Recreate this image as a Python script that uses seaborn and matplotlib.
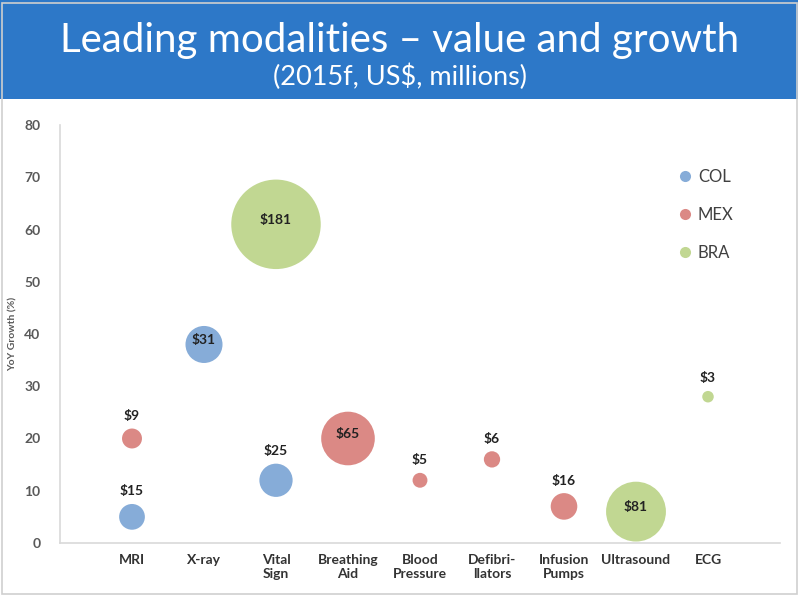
import pandas as pd
import seaborn as sns
import matplotlib.pyplot as plt
from matplotlib.patches import Rectangle

# categories on the x axis
categories = ["MRI", "X-ray", "Vital\nSign", "Breathing\nAid", "Blood\nPressure",
              "Defibri-\nllators", "Infusion\nPumps", "Ultrasound", "ECG"]

# bubbles: country, category index, growth (%), value (US$ m)
countries = ["COL", "COL", "COL",
             "MEX", "MEX", "MEX", "MEX", "MEX",
             "BRA", "BRA", "BRA"]
cat_idx = [0, 1, 2,
           0, 3, 4, 5, 6,
           2, 7, 8]
growth = [5, 38, 12,
          20, 20, 12, 16, 7,
          61, 6, 28]
value = [15, 31, 25,
         9, 65, 5, 6, 16,
         181, 81, 3]

palette = {"COL": "#86ACD8", "MEX": "#DB8985", "BRA": "#C1D792"}

df = pd.DataFrame({"country": countries, "x": [i + 1 for i in cat_idx],
                   "growth": growth, "value": value})

sns.set_style("white")
plt.rcParams['font.family'] = ['Lato', 'DejaVu Sans']

fig = plt.figure(figsize=(8, 5.97), dpi=100)

# title band
fig.patches.append(Rectangle((0, 0.835), 0.997, 0.165, transform=fig.transFigure,
                             facecolor="#2D78C8", edgecolor="none", zorder=0))
fig.patches.append(Rectangle((0.002, 0.005), 0.994, 0.99, transform=fig.transFigure,
                             facecolor="none", edgecolor="#CFCFCF", lw=1.2, zorder=0))
fig.text(0.5, 0.932, "Leading modalities \u2013 value and growth", color="white",
         ha="center", va="center", fontsize=29, family=["Lato", "DejaVu Sans"])
fig.text(0.5, 0.872, "(2015f, US$, millions)", color="white",
         ha="center", va="center", fontsize=19.5, family=["Lato", "DejaVu Sans"])

ax = fig.add_axes([0.075, 0.0905, 0.9, 0.7])
sns.scatterplot(data=df, x="x", y="growth", hue="country", palette=palette,
                size="value", sizes=(0, 4150), size_norm=(0, 181),
                linewidth=0, alpha=1, legend=False, ax=ax, zorder=3)

# value labels
for x, y, v in zip(df["x"], growth, value):
    if v >= 30:
        ax.annotate(f"${v}", (x, y), xytext=(0, 3), textcoords="offset points",
                    ha="center", va="center", fontsize=10, fontweight="bold", color="#222222")
    else:
        r = (4150 * v / 181) ** 0.5 / 2
        ax.annotate(f"${v}", (x, y), xytext=(0, r + 9), textcoords="offset points",
                    ha="center", va="center", fontsize=10, fontweight="bold", color="#222222")

ax.set_xlim(0, 10)
ax.set_ylim(0, 80)
ax.set_yticks(range(0, 81, 10))
ax.set_xticks(range(1, len(categories) + 1))
ax.set_xticklabels(categories, fontsize=10, fontweight="bold", color="#333333")
ax.tick_params(axis="y", labelsize=10, labelcolor="#595959", length=0, pad=14)
ax.tick_params(axis="x", length=0, pad=8)
for lab in ax.get_yticklabels():
    lab.set_fontweight("bold")
ax.set_xlabel("")
ax.set_ylabel("YoY Growth (%)", fontsize=7.5, fontweight="bold", color="#595959", labelpad=5)
for s in ["top", "right"]:
    ax.spines[s].set_visible(False)
for s in ["left", "bottom"]:
    ax.spines[s].set_color("#D9D9D9")
    ax.spines[s].set_linewidth(1.2)

# legend
handles = [plt.Line2D([], [], marker="o", ls="", markersize=8, color=palette[c],
                      markeredgewidth=0) for c in ["COL", "MEX", "BRA"]]
ax.legend(handles, ["COL", "MEX", "BRA"], loc="upper left", bbox_to_anchor=(0.835, 0.93),
          frameon=False, fontsize=12, labelspacing=1.3, handletextpad=0.3,
          labelcolor="#404040", handlelength=1)

fig.savefig("out.png", dpi=100)
